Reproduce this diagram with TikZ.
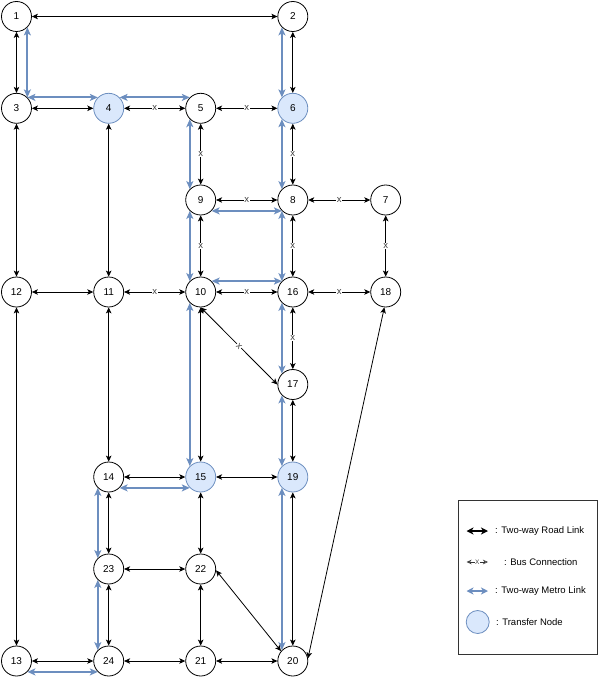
\documentclass[tikz,border=0pt]{standalone}
\usepackage{fontspec}
\setmainfont{Liberation Sans}
\usetikzlibrary{arrows.meta}
\definecolor{blueS}{HTML}{6C8EBF}
\definecolor{blueF}{HTML}{DAE8FC}
\tikzset{
 rtip/.tip={Stealth[length=6pt,width=5.5pt,inset=1.5pt]},
 mtip/.tip={Stealth[length=8pt,width=7pt,inset=2pt]},
 ltip/.tip={Stealth[length=7pt,width=7pt,inset=2pt]},
 otip/.tip={Stealth[length=5pt,width=4.5pt,inset=1.5pt,open]}
}
\begin{document}
\begin{tikzpicture}[x=1pt,y=-1pt,
 stn/.style={circle,draw=black,line width=0.8pt,fill=white,minimum size=30pt,inner sep=0pt,font=\fontsize{10}{12}\selectfont},
 xfer/.style={stn,draw=blueS,fill=blueF},
 road/.style={draw=black,line width=0.8pt,{rtip}-{rtip}},
 metro/.style={draw=blueS,line width=2pt,{mtip}-{mtip}},
 xl/.style={fill=white,inner sep=0.6pt,font=\fontsize{9.5}{10}\selectfont,text=black!75},
 legtext/.style={anchor=west,inner sep=0pt,font=\fontsize{9.5}{11}\selectfont}
]
\useasboundingbox (0,0) rectangle (598,682);

% stations
\node[stn]  (n1)  at (16.5,16.5)  {1};
\node[stn]  (n2)  at (292.8,16.5) {2};
\node[stn]  (n3)  at (16.5,108.3) {3};
\node[xfer] (n4)  at (108.7,108.3) {4};
\node[stn]  (n5)  at (200.7,108.3) {5};
\node[xfer] (n6)  at (292.8,108.3) {6};
\node[stn]  (n7)  at (385.7,200) {7};
\node[stn]  (n8)  at (292.8,200) {8};
\node[stn]  (n9)  at (200.7,200) {9};
\node[stn]  (n10) at (200.7,292) {10};
\node[stn]  (n11) at (108.7,292) {11};
\node[stn]  (n12) at (16.5,292) {12};
\node[stn]  (n13) at (16.5,661) {13};
\node[stn]  (n14) at (108.7,477) {14};
\node[xfer] (n15) at (200.7,477) {15};
\node[stn]  (n16) at (292.8,292) {16};
\node[stn]  (n17) at (292.8,384.5) {17};
\node[stn]  (n18) at (385.7,292) {18};
\node[xfer] (n19) at (292.8,477) {19};
\node[stn]  (n20) at (292.8,661) {20};
\node[stn]  (n21) at (200.7,661) {21};
\node[stn]  (n22) at (200.7,569) {22};
\node[stn]  (n23) at (108.7,569) {23};
\node[stn]  (n24) at (108.7,661) {24};

% metro links
\draw[metro] (n1.-45) -- (n3.45);
\draw[metro] (n3.45) -- (n4.135);
\draw[metro] (n4.45) -- (n5.135);
\draw[metro] (n2.-135) -- (n6.135);
\draw[metro] (n6.-135) -- (n8.135);
\draw[metro] (n5.-135) -- (n9.135);
\draw[metro] (n9.-45) -- (n8.-135);
\draw[metro] (n9.-135) -- (n10.135);
\draw[metro] (n8.-135) -- (n16.135);
\draw[metro] (n10.45) -- (n16.135);
\draw[metro] (n10.-135) -- (n15.135);
\draw[metro] (n16.-135) -- (n17.135);
\draw[metro] (n17.-135) -- (n19.135);
\draw[metro] (n19.-135) -- (n20.135);
\draw[metro] (n14.-45) -- (n15.-135);
\draw[metro] (n14.-135) -- (n23.135);
\draw[metro] (n23.-135) -- (n24.135);
\draw[metro] (n13.-45) -- (n24.-135);

% road links
\draw[road] (n1) -- (n2);
\draw[road] (n1) -- (n3);
\draw[road] (n2) -- (n6);
\draw[road] (n3) -- (n4);
\draw[road] (n3) -- (n12);
\draw[road] (n4) -- (n11);
\draw[road] (n12) -- (n11);
\draw[road] (n12) -- (n13);
\draw[road] (n11) -- (n14);
\draw[road] (n14) -- (n15);
\draw[road] (n15) -- (n19);
\draw[road] (n10) -- (n15);
\draw[road] (n17) -- (n19);
\draw[road] (n14) -- (n23);
\draw[road] (n15) -- (n22);
\draw[road] (n19) -- (n20);
\draw[road] (n23) -- (n22);
\draw[road] (n23) -- (n24);
\draw[road] (n22) -- (n21);
\draw[road] (n22.-5) -- (n20.140);
\draw[road] (n13) -- (n24);
\draw[road] (n24) -- (n21);
\draw[road] (n21) -- (n20);
\draw[road] (n20.10) -- (n18.-95);

% bus connections
\draw[road] (n4) -- node[xl]{x} (n5);
\draw[road] (n5) -- node[xl]{x} (n6);
\draw[road] (n5) -- node[xl]{x} (n9);
\draw[road] (n6) -- node[xl]{x} (n8);
\draw[road] (n9) -- node[xl]{x} (n8);
\draw[road] (n8) -- node[xl]{x} (n7);
\draw[road] (n9) -- node[xl]{x} (n10);
\draw[road] (n8) -- node[xl]{x} (n16);
\draw[road] (n7) -- node[xl]{x} (n18);
\draw[road] (n10) -- node[xl]{x} (n16);
\draw[road] (n16) -- node[xl]{x} (n18);
\draw[road] (n11) -- node[xl]{x} (n10);
\draw[road] (n16) -- node[xl]{x} (n17);
\draw[road] (n10.south) -- node[xl,sloped]{x} (n17.west);

% legend
\node[draw=black!80,line width=0.8pt,minimum width=139pt,minimum height=154pt,inner sep=0pt,anchor=north west] (leg) at (458.3,500) {};
\coordinate (ra) at (466.5,531);
\coordinate (rb) at (488,531);
\draw[line width=1.4pt,{ltip}-{ltip}] (ra) -- (rb);
\node[legtext] (rt) at (495,531) {: Two-way Road Link};
\coordinate (ba) at (466.5,562);
\coordinate (bb) at (488,562);
\draw[line width=0.6pt,draw=black!80,{otip}-{otip}] (ba) -- node[fill=white,inner sep=0.3pt,font=\fontsize{6.5}{7}\selectfont,text=black!75]{X} (bb);
\node[legtext] (bt) at (504,562) {: Bus Connection};
\coordinate (ma) at (466.5,591);
\coordinate (mb) at (488,591);
\draw[draw=blueS,line width=1.4pt,{ltip}-{ltip}] (ma) -- (mb);
\node[legtext] (mt) at (495,591) {: Two-way Metro Link};
\node[circle,draw=blueS,fill=blueF,line width=0.8pt,minimum size=23pt,inner sep=0pt] (tn) at (477.7,622) {};
\node[legtext] (tt) at (496,622) {: Transfer Node};
\end{tikzpicture}
\end{document}
